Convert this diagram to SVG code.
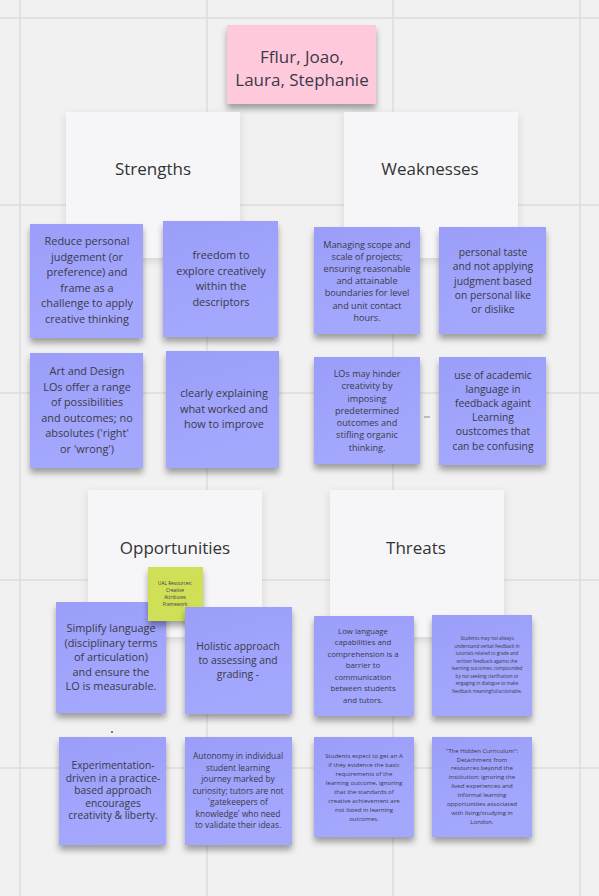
<svg xmlns="http://www.w3.org/2000/svg" width="599" height="896" viewBox="0 0 599 896">
<defs>
<filter id="sh" x="-20%" y="-20%" width="140%" height="150%">
<feDropShadow dx="0" dy="5" stdDeviation="3" flood-color="#000" flood-opacity="0.35"/>
</filter>
<filter id="shc" x="-20%" y="-20%" width="140%" height="150%">
<feDropShadow dx="0" dy="3" stdDeviation="4" flood-color="#000" flood-opacity="0.12"/>
</filter>
<linearGradient id="blue" x1="0" y1="0" x2="0.3" y2="1">
<stop offset="0" stop-color="#9a9ef9"/>
<stop offset="1" stop-color="#a4a8fd"/>
</linearGradient>
</defs>
<style>
text{font-family:"Open Sans","Noto Sans","Liberation Sans",sans-serif;fill:#3a3a48;text-anchor:middle}
.grid{stroke:#dcdcdc;stroke-width:1.5}
.card{fill:#f6f6f8;filter:url(#shc)}
.hd{font-size:17px;fill:#333}
.st{fill:url(#blue);filter:url(#sh)}
.a{font-size:10.9px}
.b{font-size:10.3px}
.c{font-size:9.1px}
.d{font-size:8.4px}
.e{font-size:7.8px}
.f{font-size:6.1px}
.g{font-size:4.6px}
.h{font-size:4.7px}
</style>
<rect width="599" height="896" fill="#f1f1f1"/>
<g id="grid">
<line class="grid" x1="20" y1="0" x2="20" y2="896"/>
<line class="grid" x1="207" y1="0" x2="207" y2="896"/>
<line class="grid" x1="393" y1="0" x2="393" y2="896"/>
<line class="grid" x1="580" y1="0" x2="580" y2="896"/>
<line class="grid" x1="0" y1="18" x2="599" y2="18"/>
<line class="grid" x1="0" y1="205" x2="599" y2="205"/>
<line class="grid" x1="0" y1="393" x2="599" y2="393"/>
<line class="grid" x1="0" y1="580" x2="599" y2="580"/>
<line class="grid" x1="0" y1="768" x2="599" y2="768"/>
</g>

<g id="title">
<rect x="227" y="25" width="149" height="79" fill="#ffc9dc" filter="url(#sh)"/>
<text x="302" y="63" font-size="17">Fflur, Joao,</text>
<text x="302" y="86" font-size="17">Laura, Stephanie</text>
</g>

<g id="card-strengths">
<rect class="card" x="66" y="112" width="174" height="146"/>
<text class="hd" x="153" y="175">Strengths</text>
</g>
<g id="card-weaknesses">
<rect class="card" x="344" y="112" width="174" height="146"/>
<text class="hd" x="430" y="175">Weaknesses</text>
</g>
<g id="card-opportunities">
<rect class="card" x="88" y="490" width="174" height="147"/>
<text class="hd" x="175" y="554">Opportunities</text>
</g>
<g id="card-threats">
<rect class="card" x="330" y="490" width="174" height="147"/>
<text class="hd" x="416" y="554">Threats</text>
</g>

<g id="connectors">
<line x1="424" y1="417" x2="430" y2="417" stroke="#8a8a8a" stroke-width="1"/>
<circle cx="112" cy="732" r="1" fill="#555"/>
</g>

<g id="s1">
<rect class="st" x="30" y="224" width="113" height="114"/>
<text class="a" x="87" y="245">Reduce personal</text>
<text class="a" x="87" y="260.5">judgement (or</text>
<text class="a" x="87" y="276">preference) and</text>
<text class="a" x="87" y="291.5">frame as a</text>
<text class="a" x="87" y="307">challenge to apply</text>
<text class="a" x="87" y="322.5">creative thinking</text>
</g>
<g id="s2">
<rect class="st" x="163" y="221" width="115" height="116"/>
<text class="a" x="221" y="259">freedom to</text>
<text class="a" x="221" y="274.5">explore creatively</text>
<text class="a" x="221" y="290">within the</text>
<text class="a" x="221" y="305.5">descriptors</text>
</g>
<g id="s3">
<rect class="st" x="30" y="353" width="113" height="115"/>
<text class="a" x="87" y="375">Art and Design</text>
<text class="a" x="87" y="390.5">LOs offer a range</text>
<text class="a" x="87" y="406">of possibilities</text>
<text class="a" x="87" y="421.5">and outcomes; no</text>
<text class="a" x="87" y="437">absolutes ('right'</text>
<text class="a" x="87" y="452.5">or 'wrong')</text>
</g>
<g id="s4">
<rect class="st" x="166" y="351" width="113" height="117"/>
<text class="a" x="224" y="397">clearly explaining</text>
<text class="a" x="224" y="412.5">what worked and</text>
<text class="a" x="224" y="428">how to improve</text>
</g>

<g id="w1">
<rect class="st" x="314" y="227" width="106" height="107"/>
<text class="c" x="367" y="248">Managing scope and</text>
<text class="c" x="367" y="260">scale of projects;</text>
<text class="c" x="367" y="272">ensuring reasonable</text>
<text class="c" x="367" y="284">and attainable</text>
<text class="c" x="367" y="296">boundaries for level</text>
<text class="c" x="367" y="308.5">and unit contact</text>
<text class="c" x="367" y="321">hours.</text>
</g>
<g id="w2">
<rect class="st" x="439" y="227" width="107" height="107"/>
<text class="b" x="493" y="256">personal taste</text>
<text class="b" x="493" y="270">and not applying</text>
<text class="b" x="493" y="285">judgment based</text>
<text class="b" x="493" y="299">on personal  like</text>
<text class="b" x="493" y="313">or dislike</text>
</g>
<g id="w3">
<rect class="st" x="314" y="357" width="106" height="107"/>
<text class="c" x="367" y="377">LOs may hinder</text>
<text class="c" x="367" y="389">creativity by</text>
<text class="c" x="367" y="401.5">imposing</text>
<text class="c" x="367" y="414">predetermined</text>
<text class="c" x="367" y="426">outcomes and</text>
<text class="c" x="367" y="438">stifling organic</text>
<text class="c" x="367" y="451">thinking.</text>
</g>
<g id="w4">
<rect class="st" x="439" y="357" width="107" height="108"/>
<text class="b" x="493" y="379">use of academic</text>
<text class="b" x="493" y="393">language in</text>
<text class="b" x="493" y="407">feedback againt</text>
<text class="b" x="493" y="421">Learning</text>
<text class="b" x="493" y="435">oustcomes that</text>
<text class="b" x="493" y="450">can be confusing</text>
</g>

<g id="o1">
<rect class="st" x="56" y="602" width="110" height="111"/>
<text class="a" x="111" y="632">Simplify language</text>
<text class="a" x="111" y="646.5">(disciplinary terms</text>
<text class="a" x="111" y="661">of articulation)</text>
<text class="a" x="111" y="675.5">and ensure the</text>
<text class="a" x="111" y="690">LO is measurable.</text>
</g>
<g id="o-green">
<rect x="148" y="567" width="55" height="54" fill="#cfe057" filter="url(#sh)"/>
<text class="h" x="175" y="585">UAL Resources:</text>
<text class="h" x="175" y="592">Creative</text>
<text class="h" x="175" y="599">Attributes</text>
<text class="h" x="175" y="606">Framework</text>
</g>
<g id="o2">
<rect class="st" x="185" y="607" width="107" height="107"/>
<text class="b" x="238" y="650">Holistic approach</text>
<text class="b" x="238" y="664">to assessing and</text>
<text class="b" x="238" y="678">grading -</text>
</g>
<g id="o3">
<rect class="st" x="59" y="737" width="107" height="108"/>
<text class="b" x="113" y="769">Experimentation-</text>
<text class="b" x="113" y="781.5">driven in a practice-</text>
<text class="b" x="113" y="794">based approach</text>
<text class="b" x="113" y="806.5">encourages</text>
<text class="b" x="113" y="819">creativity &amp; liberty.</text>
</g>
<g id="o4">
<rect class="st" x="185" y="737" width="107" height="108"/>
<text class="d" x="238" y="759">Autonomy in individual</text>
<text class="d" x="238" y="770.5">student learning</text>
<text class="d" x="238" y="782">journey marked by</text>
<text class="d" x="238" y="793.5">curiosity; tutors are not</text>
<text class="d" x="238" y="805">'gatekeepers of</text>
<text class="d" x="238" y="816.5">knowledge' who need</text>
<text class="d" x="238" y="828">to validate their ideas.</text>
</g>

<g id="t1">
<rect class="st" x="314" y="616" width="100" height="100"/>
<text class="e" x="363" y="633.5">Low language</text>
<text class="e" x="363" y="645">capabilities and</text>
<text class="e" x="363" y="656.5">comprehension is a</text>
<text class="e" x="363" y="668">barrier to</text>
<text class="e" x="363" y="679.5">communication</text>
<text class="e" x="363" y="691">between students</text>
<text class="e" x="363" y="702.5">and tutors.</text>
</g>
<g id="t2">
<rect class="st" x="432" y="615" width="100" height="101"/>
<text class="g" x="487" y="640">Students may not always</text>
<text class="g" x="487" y="647.5">understand verbal feedback in</text>
<text class="g" x="487" y="655">tutorials related to grade and</text>
<text class="g" x="487" y="662.5">written feedback  against the</text>
<text class="g" x="487" y="670">learning outcomes; compounded</text>
<text class="g" x="487" y="677.5">by not seeking clarification or</text>
<text class="g" x="487" y="685">engaging in dialogue to make</text>
<text class="g" x="487" y="692.5">feedback meaningful/actionable.</text>
</g>
<g id="t3">
<rect class="st" x="314" y="737" width="100" height="100"/>
<text class="f" x="364" y="757.5">Students expect to get an A</text>
<text class="f" x="364" y="766.5">if they evidence the basic</text>
<text class="f" x="364" y="775.5">requirements of the</text>
<text class="f" x="364" y="784.5">learning outcome, ignoring</text>
<text class="f" x="364" y="794">that the standards of</text>
<text class="f" x="364" y="803">creative achievement are</text>
<text class="f" x="364" y="812">not listed in learning</text>
<text class="f" x="364" y="821">outcomes.</text>
</g>
<g id="t4">
<rect class="st" x="432" y="737" width="100" height="100"/>
<text class="f" x="482" y="752.5">"The Hidden Curriculum":</text>
<text class="f" x="482" y="761.5">Detachment from</text>
<text class="f" x="482" y="770">resources beyond the</text>
<text class="f" x="482" y="779">institution; ignoring the</text>
<text class="f" x="482" y="787.5">lived experiences and</text>
<text class="f" x="482" y="796.5">informal learning</text>
<text class="f" x="482" y="805.5">opportunities associated</text>
<text class="f" x="482" y="814.5">with living/studying in</text>
<text class="f" x="482" y="823.5">London.</text>
</g>
</svg>
